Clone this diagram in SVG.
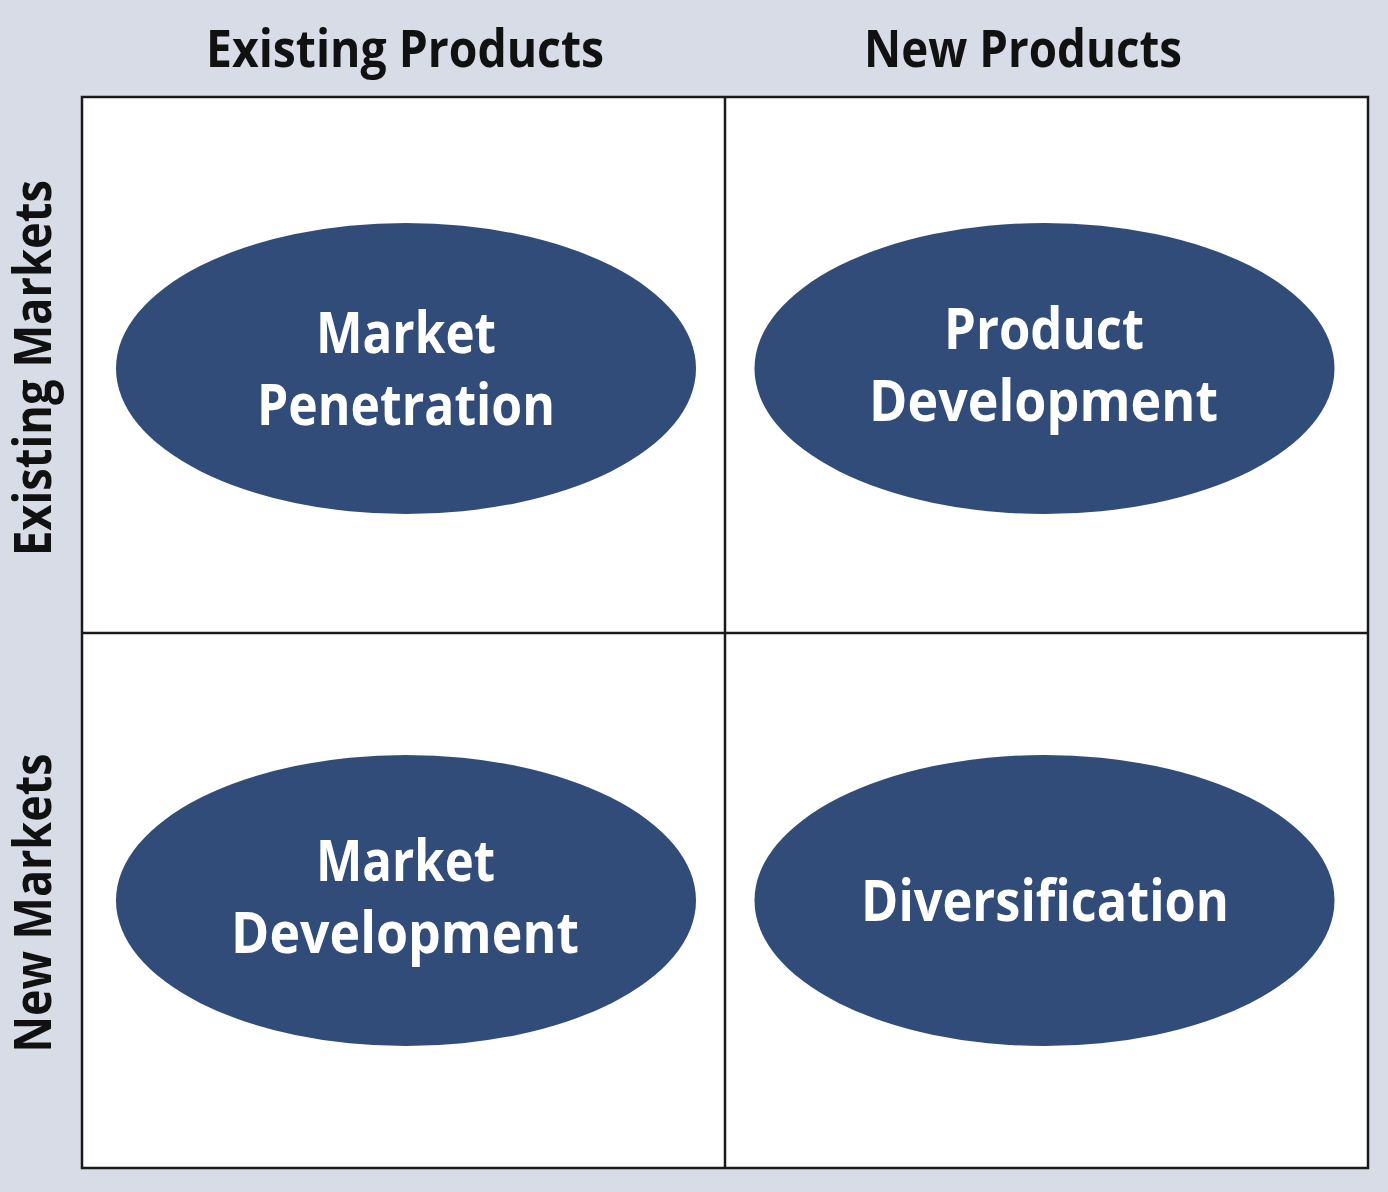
<svg xmlns="http://www.w3.org/2000/svg" width="1388" height="1192" viewBox="0 0 1388 1192">
<style>
.hdr{font-family:"Open Sans","Liberation Sans",sans-serif;font-weight:700;font-size:52px;fill:#111;text-anchor:middle}
.lbl{font-family:"Open Sans","Liberation Sans",sans-serif;font-weight:700;font-size:57px;fill:#fff;text-anchor:middle}
.oval{fill:#324c79}
.grid{stroke:#1a1a1a;stroke-width:2.5;fill:none}
</style>
<rect x="0" y="0" width="1388" height="1192" fill="#d7dce6"/>
<rect x="82" y="97" width="1286" height="1071" fill="#fff"/>
<g id="headers">
<text class="hdr" x="405" y="67" textLength="398" lengthAdjust="spacingAndGlyphs">Existing Products</text>
<text class="hdr" x="1023" y="67" textLength="318" lengthAdjust="spacingAndGlyphs">New Products</text>
<text class="hdr" transform="translate(51,368) rotate(-90)" x="0" y="0" textLength="376" lengthAdjust="spacingAndGlyphs">Existing Markets</text>
<text class="hdr" transform="translate(51,903) rotate(-90)" x="0" y="0" textLength="299" lengthAdjust="spacingAndGlyphs">New Markets</text>
</g>
<g id="connectors">
<rect class="grid" x="82" y="97" width="1286" height="1071"/>
<line class="grid" x1="725" y1="97" x2="725" y2="1168"/>
<line class="grid" x1="82" y1="633" x2="1368" y2="633"/>
</g>
<g id="market-penetration">
<ellipse class="oval" cx="406" cy="368.5" rx="290" ry="145.5"/>
<text class="lbl" x="406" y="353" textLength="180" lengthAdjust="spacingAndGlyphs">Market</text>
<text class="lbl" x="406" y="425" textLength="298" lengthAdjust="spacingAndGlyphs">Penetration</text>
</g>
<g id="product-development">
<ellipse class="oval" cx="1044.5" cy="368.5" rx="290" ry="145.5"/>
<text class="lbl" x="1044" y="349" textLength="200" lengthAdjust="spacingAndGlyphs">Product</text>
<text class="lbl" x="1043.5" y="421" textLength="349" lengthAdjust="spacingAndGlyphs">Development</text>
</g>
<g id="market-development">
<ellipse class="oval" cx="406" cy="900.5" rx="290" ry="145.5"/>
<text class="lbl" x="405.5" y="881" textLength="179" lengthAdjust="spacingAndGlyphs">Market</text>
<text class="lbl" x="405" y="953" textLength="348" lengthAdjust="spacingAndGlyphs">Development</text>
</g>
<g id="diversification">
<ellipse class="oval" cx="1044.5" cy="900.5" rx="290" ry="145.5"/>
<text class="lbl" x="1045" y="921" textLength="368" lengthAdjust="spacingAndGlyphs">Diversification</text>
</g>
</svg>
